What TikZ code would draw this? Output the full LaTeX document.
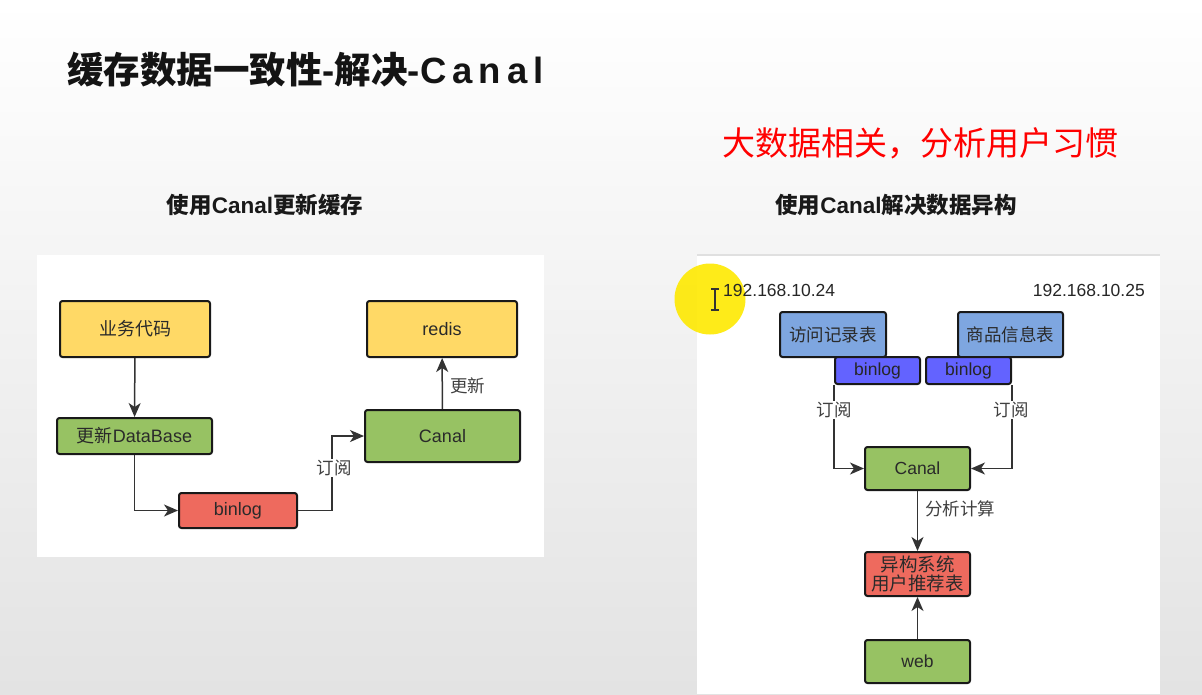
\documentclass[tikz,border=0pt]{standalone}
\usepackage{fontspec}
\setmainfont{Liberation Sans}
\newfontfamily\cjk{Noto Sans CJK SC}
\usetikzlibrary{arrows.meta}
\newcommand{\zh}[1]{{\cjk #1}}
\definecolor{cyellow}{HTML}{FFD966}
\definecolor{cgreen}{HTML}{97C263}
\definecolor{cred}{HTML}{EE6A5E}
\definecolor{cblue}{HTML}{7EA6E0}
\definecolor{cbin}{HTML}{6363FF}
\definecolor{ctext}{HTML}{2A2A2A}
\tikzset{
  box/.style={draw=black!90, line width=2pt, rounded corners=2.5pt, inner sep=0pt, text=ctext, font=\fontsize{18}{20}\selectfont},
  rbox/.style={box, font=\fontsize{17.5}{20}\selectfont},
  conn/.style={draw=black!80, line width=1.5pt, -{Stealth[length=14pt,width=12pt,inset=4pt]}},
  lbl/.style={fill=white, inner sep=1pt, text=black!75, font=\fontsize{17.5}{19}\selectfont},
  subtitle/.style={font=\fontsize{22.5}{26}\selectfont\bfseries, text=black!90}
}
\begin{document}
\begin{tikzpicture}[x=1pt,y=-1pt]
\useasboundingbox (0,0) rectangle (1202,694);
\shade[top color=white, bottom color=black!11] (0,0) rectangle (1202,694);
% panels
\fill[white] (37,255) rectangle (544,557);
\fill[white] (697,255) rectangle (1160,694);
\draw[black!12, line width=1.5pt] (697,255) -- (1160,255);
% titles
\node[anchor=west, inner sep=0pt, font=\fontsize{36.5}{40}\selectfont\bfseries, text=black!92] (title) at (67,70) {\zh{\bfseries 缓存数据一致性}-\zh{\bfseries 解决}-C\,a\,n\,a\,l};
\node[inner sep=0pt, font=\fontsize{33}{36}\selectfont, text=red] (note) at (920,143) {\zh{大数据相关，分析用户习惯}};
\node[subtitle, inner sep=0pt] (subL) at (265,205) {\zh{\bfseries 使用}Canal\zh{\bfseries 更新缓存}};
\node[subtitle, inner sep=0pt] (subR) at (896,205) {\zh{\bfseries 使用}Canal\zh{\bfseries 解决数据异构}};
% ---- left diagram
\node[box, fill=cyellow, minimum width=150pt, minimum height=56pt] (biz) at (135,329) {\zh{业务代码}};
\node[box, fill=cyellow, minimum width=150pt, minimum height=56pt] (redis) at (442,329) {redis};
\node[box, fill=cgreen, minimum width=155pt, minimum height=36pt] (db) at (134.5,436) {\zh{更新}DataBase};
\node[box, fill=cgreen, minimum width=155pt, minimum height=52pt] (canalL) at (442.5,436) {Canal};
\node[box, fill=cred, minimum width=118pt, minimum height=35pt] (binL) at (238,510.5) {binlog};
\draw[conn] (biz) -- (db);
\draw[conn] (db.south) |- (binL.west);
\coordinate (turnL) at (332,510.5);
\draw[conn] (binL.east) -- (turnL) |- (canalL.west);
\node[lbl] (subsL) at (334,468) {\zh{订阅}};
\draw[conn] (canalL) -- (redis);
\node[lbl, anchor=west] (updL) at (449,386) {\zh{更新}};
% ---- right diagram
\fill[yellow!92!orange, opacity=0.9] (710,299) circle (35.5);
\draw[black!80, line width=1.2pt] (715,289) -- (715,310) (711,289) -- (719,289) (711,310) -- (719,310);
\node[anchor=west, inner sep=0pt, text=black!85, font=\fontsize{17.5}{19}\selectfont] (ip1) at (723,290) {192.168.10.24};
\node[anchor=east, inner sep=0pt, text=black!85, font=\fontsize{17.5}{19}\selectfont] (ip2) at (1145,290) {192.168.10.25};
\node[rbox, fill=cblue, minimum width=106pt, minimum height=45pt] (visit) at (833,334.5) {\zh{访问记录表}};
\node[rbox, fill=cblue, minimum width=105pt, minimum height=45pt] (goods) at (1010.5,334.5) {\zh{商品信息表}};
\node[rbox, fill=cbin, minimum width=85pt, minimum height=27pt, text=black!85] (bl1) at (877.5,370.5) {binlog};
\node[rbox, fill=cbin, minimum width=85pt, minimum height=27pt, text=black!85] (bl2) at (968.5,370.5) {binlog};
\node[rbox, fill=cgreen, minimum width=105pt, minimum height=43pt] (canalR) at (917.5,468.5) {Canal};
\node[rbox, fill=cred, minimum width=105pt, minimum height=44pt, align=center, font=\fontsize{18.5}{19}\selectfont] (het) at (917.5,574) {\zh{异构系统}\\\zh{用户推荐表}};
\node[rbox, fill=cgreen, minimum width=105pt, minimum height=43pt] (web) at (917.5,661.5) {web};
\draw[conn] (bl1.south west) |- (canalR.west);
\draw[conn] (bl2.south east) |- (canalR.east);
\node[lbl] (subs1) at (834,410) {\zh{订阅}};
\node[lbl] (subs2) at (1011,410) {\zh{订阅}};
\draw[conn] (canalR) -- (het);
\node[lbl, anchor=west] (calc) at (924,509) {\zh{分析计算}};
\draw[conn] (web) -- (het);
\end{tikzpicture}
\end{document}
